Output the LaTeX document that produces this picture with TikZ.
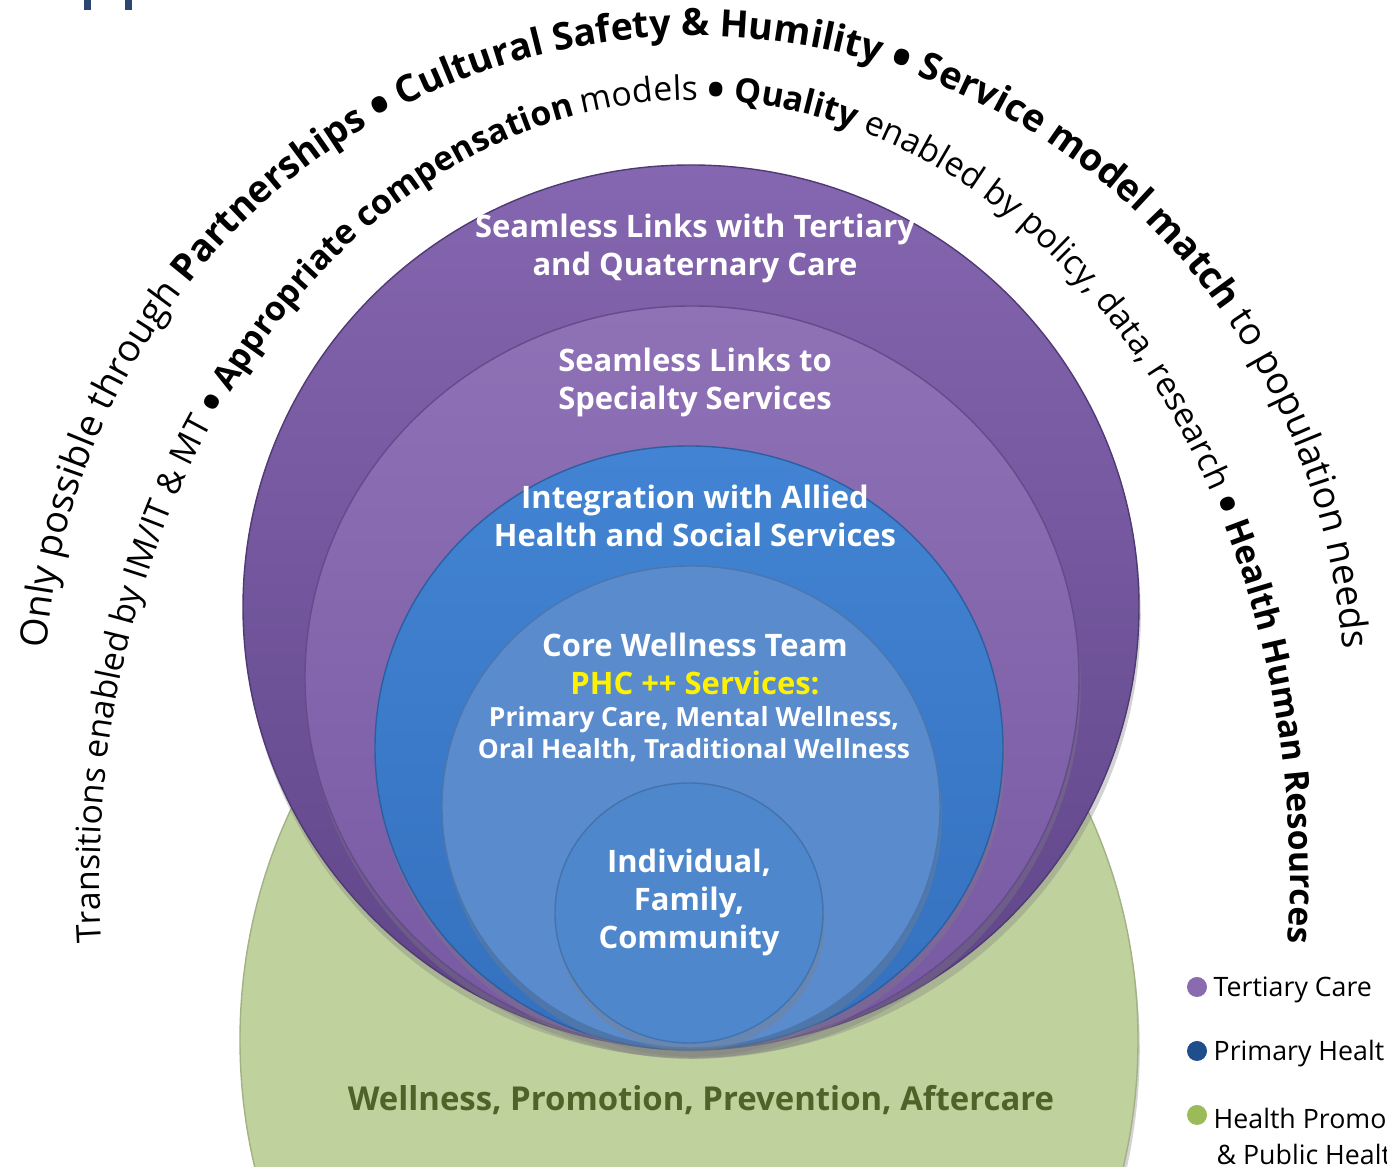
\documentclass[tikz,border=0pt]{standalone}
\usepackage{fontspec}
\setmainfont{Open Sans}
\usetikzlibrary{decorations.text,shadows}

\tikzset{
  ring/.style={draw=#1!85!black, line width=0.4pt,
    drop shadow={shadow xshift=0.5pt, shadow yshift=-2.5pt, opacity=0.35}},
  ringtext/.style={text=white, font=\bfseries\fontsize{8.8}{10.8}\selectfont, align=center, inner sep=0pt},
  legendtext/.style={anchor=west, font=\fontsize{7.6}{9}\selectfont, inner sep=0pt},
  legenddot/.style={fill=#1}
}

\begin{document}
\begin{tikzpicture}[x=0.01cm, y=0.01cm]

\def\arcbig{\fontsize{10.7}{12}\selectfont}
\def\arcsmall{\fontsize{9.6}{11}\selectfont}
\def\bigdot{\raisebox{-2pt}{\fontsize{15}{15}\selectfont\bfseries •}}
\def\smalldot{\raisebox{-1.8pt}{\fontsize{13.5}{13.5}\selectfont\bfseries •}}
\definecolor{tertiarytop}{HTML}{8566B0}
\definecolor{tertiarybottom}{HTML}{5E4487}
\definecolor{specialtytop}{HTML}{8F71B6}
\definecolor{specialtybottom}{HTML}{7659A2}
\definecolor{integtop}{HTML}{4284D3}
\definecolor{integbottom}{HTML}{3470BE}
\definecolor{coreblue}{HTML}{5A8CCD}
\definecolor{indivblue}{HTML}{4F87CC}
\definecolor{wellgreen}{HTML}{BFD19D}
\definecolor{greentext}{HTML}{4F6228}
\definecolor{legendpurple}{HTML}{8A6BB0}
\definecolor{legendblue}{HTML}{1F4E8C}
\definecolor{legendgreen}{HTML}{9BBB59}
\definecolor{headerblue}{HTML}{2B4770}

\useasboundingbox (0,0) rectangle (1387,1167);

\coordinate (outerarc) at (695,467);
\coordinate (innerarc) at (695,287);
\coordinate (green) at (689,127);
\coordinate (tert) at (691,560);
\coordinate (spec) at (692,489);
\coordinate (integ) at (689,419);
\coordinate (core) at (691,360);
\coordinate (indiv) at (689,254);

\fill[headerblue] (84,1157) rectangle (91,1167);
\fill[headerblue] (125,1157) rectangle (132,1167);

\path[ring=wellgreen, fill=wellgreen] (green) ellipse (449 and 498);
\path[ring=tertiarybottom, top color=tertiarytop, bottom color=tertiarybottom] (tert) ellipse (448 and 442);
\path[ring=specialtybottom, top color=specialtytop, bottom color=specialtybottom] (spec) ellipse (387 and 372);
\path[ring=integbottom, top color=integtop, bottom color=integbottom] (integ) ellipse (314 and 302);
\path[ring=coreblue, fill=coreblue] (core) ellipse (249 and 241);
\path[ring=indivblue, fill=indivblue] (indiv) ellipse (134 and 130);

\path[decorate, decoration={text along path, text align=center,
  text={|\arcbig|Only possible through |\arcbig\bfseries|Partnerships {\bigdot} Cultural Safety {\&} Humility {\bigdot} Service model match|\arcbig\mdseries| to population needs}}]
  (outerarc) ++(186:650 and 664) arc[start angle=186, end angle=-6, x radius=650, y radius=664];

\path[decorate, decoration={text along path, text align=center,
  text={|\arcsmall|Transitions enabled by IM/IT {\&} MT {\smalldot} |\arcsmall\bfseries|Appropriate compensation|\arcsmall\mdseries| models {\smalldot} |\arcsmall\bfseries|Quality|\arcsmall\mdseries| enabled by policy, data, research {\smalldot} |\arcsmall\bfseries|Health Human Resources}}]
  (innerarc) ++(190:595 and 780) arc[start angle=190, end angle=-10, x radius=595, y radius=780];

\node[ringtext] (tertlabel) at (695,919) {Seamless Links with Tertiary\\and Quaternary Care};
\node[ringtext] (speclabel) at (695,785) {Seamless Links to\\Specialty Services};
\node[ringtext] (integlabel) at (695,651) {Integration with Allied\\Health and Social Services};
\node[ringtext] (corelabel) at (695,503) {Core Wellness Team\\\textcolor{yellow}{PHC ++ Services:}};
\node[ringtext, font=\bfseries\fontsize{7.5}{9.1}\selectfont] (coreservices) at (694,433) {Primary Care, Mental Wellness,\\Oral Health, Traditional Wellness};
\node[ringtext] (indivlabel) at (689,265) {Individual,\\Family,\\Community};
\node[ringtext, text=greentext, font=\bfseries\fontsize{9.35}{11}\selectfont] (greenlabel) at (701,67) {Wellness, Promotion, Prevention, Aftercare};

\fill[legenddot=legendpurple] (1197,180) circle (10);
\fill[legenddot=legendblue] (1197,116) circle (10);
\fill[legenddot=legendgreen] (1197,52) circle (10);
\node[legendtext] (tertlegend) at (1213,177) {Tertiary Care};
\node[legendtext] (primlegend) at (1213,113) {Primary Healt};
\node[legendtext] (promolegend) at (1213,49) {Health Promo};
\node[legendtext] (publiclegend) at (1216,13) {\& Public Healt};

\end{tikzpicture}
\end{document}
